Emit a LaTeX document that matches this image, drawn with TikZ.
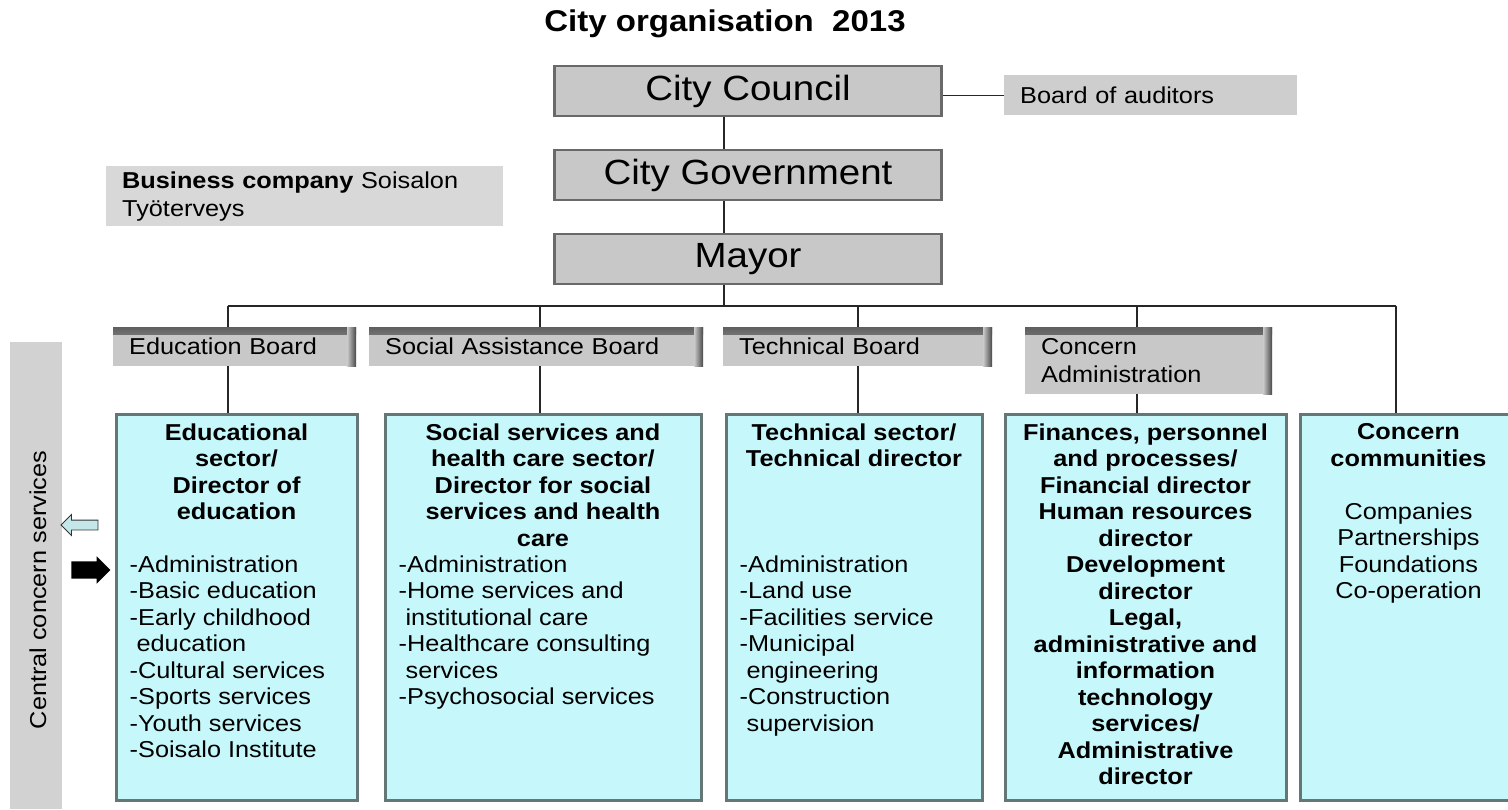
\documentclass[tikz,border=0pt]{standalone}
\usepackage{fontspec}
\setmainfont[FakeStretch=1.1]{Liberation Sans}
\usetikzlibrary{positioning,shapes.arrows}

\definecolor{boxgray}{RGB}{200,200,200}
\definecolor{palegray}{RGB}{206,206,206}
\definecolor{bizgray}{RGB}{216,216,216}
\definecolor{bargray}{RGB}{210,210,210}
\definecolor{edgegray}{RGB}{105,105,105}
\definecolor{sectorcyan}{RGB}{198,247,250}
\definecolor{sectoredge}{RGB}{100,118,118}
\definecolor{arrowcyan}{RGB}{196,232,234}

\begin{document}
\begin{tikzpicture}[x=1pt,y=-1pt,
    every node/.style={font=\fontsize{23}{26.5}\selectfont},
    topbox/.style={draw=edgegray, line width=2.5pt, fill=boxgray,
        minimum width=387pt, minimum height=50pt, inner sep=0pt,
        font=\fontsize{35}{40}\selectfont},
    board/.style={fill=boxgray, anchor=north west, align=left,
        inner xsep=16pt, inner ysep=0pt, minimum height=39pt, text width=#1,
        path picture={
            \shade[top color=gray!75!black, bottom color=boxgray]
                (path picture bounding box.north west) rectangle
                ([yshift=-7pt]path picture bounding box.north east);
            \shade[left color=boxgray, right color=gray!55!black]
                ([xshift=-9pt]path picture bounding box.north east) rectangle
                (path picture bounding box.south east);}},
    sector/.style={draw=sectoredge, line width=3pt, fill=sectorcyan,
        anchor=north west, minimum height=386pt, minimum width=#1, inner sep=0pt},
    head/.style={font=\fontsize{23}{26.5}\selectfont\bfseries, align=center,
        anchor=north, inner sep=0pt},
    items/.style={align=left, anchor=north west, inner sep=0pt},
    link/.style={line width=1.2pt, black!85}]

    \useasboundingbox (0,0) rectangle (1508,809);

    %title and the top of the chain
    \node[font=\fontsize{30}{34}\selectfont\bfseries] (title) at (725,24) {City organisation~~2013};
    \node[topbox] (council) at (748,91) {City Council};
    \node[topbox] (gov) at (748,175) {City Government};
    \node[topbox] (mayor) at (748,259) {Mayor};

    \node[fill=palegray, anchor=north west, text width=261pt, minimum height=40pt,
        inner xsep=16pt, inner ysep=0pt, align=left] (auditors) at (1004,75) {Board of auditors};
    \node[fill=bizgray, anchor=north west, text width=365pt, minimum height=60pt,
        inner xsep=16pt, inner ysep=0pt, align=left,
        font=\fontsize{23}{28}\selectfont] (business) at (106,166)
        {\textbf{Business company} Soisalon\\Työterveys};

    %boards
    \node[board=211pt] (edboard) at (113,327) {Education Board};
    \node[board=302pt] (soboard) at (369,327) {Social Assistance Board};
    \node[board=237pt] (teboard) at (723,327) {Technical Board};
    \node[board=215pt, minimum height=67pt, font=\fontsize{23}{28}\selectfont]
        (caboard) at (1025,327) {Concern\\Administration};

    %sector boxes
    \node[sector=241pt] (edbox) at (114.5,412.5) {};
    \node[sector=316pt] (sobox) at (383.5,412.5) {};
    \node[sector=256pt] (tebox) at (724.5,412.5) {};
    \node[sector=281pt] (cabox) at (1003.5,412.5) {};
    \node[sector=217pt] (ccbox) at (1298.5,412.5) {};

    \node[head] (edhead) at ([yshift=-11pt]edbox.north)
        {Educational\\sector/\\Director of\\education};
    \node[items] (edlist) at ([xshift=15pt,yshift=-143pt]edbox.north west)
        {-Administration\\-Basic education\\-Early childhood\\\hspace*{.3em}education\\
         -Cultural services\\-Sports services\\-Youth services\\-Soisalo Institute};

    \node[head] (sohead) at ([yshift=-11pt]sobox.north)
        {Social services and\\health care sector/\\Director for social\\services and health\\care};
    \node[items] (solist) at ([xshift=15pt,yshift=-143pt]sobox.north west)
        {-Administration\\-Home services and\\\hspace*{.3em}institutional care\\
         -Healthcare consulting\\\hspace*{.3em}services\\-Psychosocial services};

    \node[head] (tehead) at ([yshift=-11pt]tebox.north)
        {Technical sector/\\Technical director};
    \node[items] (telist) at ([xshift=15pt,yshift=-143pt]tebox.north west)
        {-Administration\\-Land use\\-Facilities service\\-Municipal\\\hspace*{.3em}engineering\\
         -Construction\\\hspace*{.3em}supervision};

    \node[head] (cahead) at ([yshift=-11pt]cabox.north)
        {Finances, personnel\\and processes/\\Financial director\\Human resources\\director\\
         Development\\director\\Legal,\\administrative and\\information\\technology\\
         services/\\Administrative\\director};

    \node[head] (cchead) at ([yshift=-11pt]ccbox.north) {Concern\\communities};
    \node[align=center, anchor=north, inner sep=0pt] (cclist) at ([yshift=-90pt]ccbox.north)
        {Companies\\Partnerships\\Foundations\\Co-operation};

    %central concern services
    \node[fill=bargray, anchor=north west, minimum width=52pt, minimum height=467pt,
        inner sep=0pt] (central) at (10,342) {};
    \node[rotate=90, inner sep=0pt] (centraltxt) at (38,590) {Central concern services};
    \node[single arrow, shape border rotate=180, draw=black!80, fill=arrowcyan,
        line width=0.8pt, minimum height=37pt, inner sep=4.5pt,
        single arrow head extend=5.5pt] (arrIn) at (82,525) {};
    \node[single arrow, fill=black, minimum height=39pt, inner sep=8.5pt,
        single arrow head extend=5pt] (arrOut) at (86.5,570) {};

    %connectors
    \coordinate (spine) at (724,306);
    \coordinate (dEd) at (228,306);
    \coordinate (dSo) at (540,306);
    \coordinate (dTe) at (858,306);
    \coordinate (dCa) at (1137,306);
    \coordinate (dCc) at (1396,306);

    \draw[link] (council.east |- auditors.west) -- (auditors.west);
    \draw[link] (council.south -| spine) -- (gov.north -| spine);
    \draw[link] (gov.south -| spine) -- (mayor.north -| spine);
    \draw[link] (mayor.south -| spine) -- (spine);
    \draw[link] (dEd) -- (dCc);
    \foreach \d/\b/\s in {dEd/edboard/edbox, dSo/soboard/sobox, dTe/teboard/tebox, dCa/caboard/cabox} {
        \draw[link] (\d) -- (\d |- \b.north);
        \draw[link] (\d |- \b.south) -- (\d |- \s.north);
    }
    \draw[link] (dCc) -- (dCc |- ccbox.north);
\end{tikzpicture}
\end{document}
